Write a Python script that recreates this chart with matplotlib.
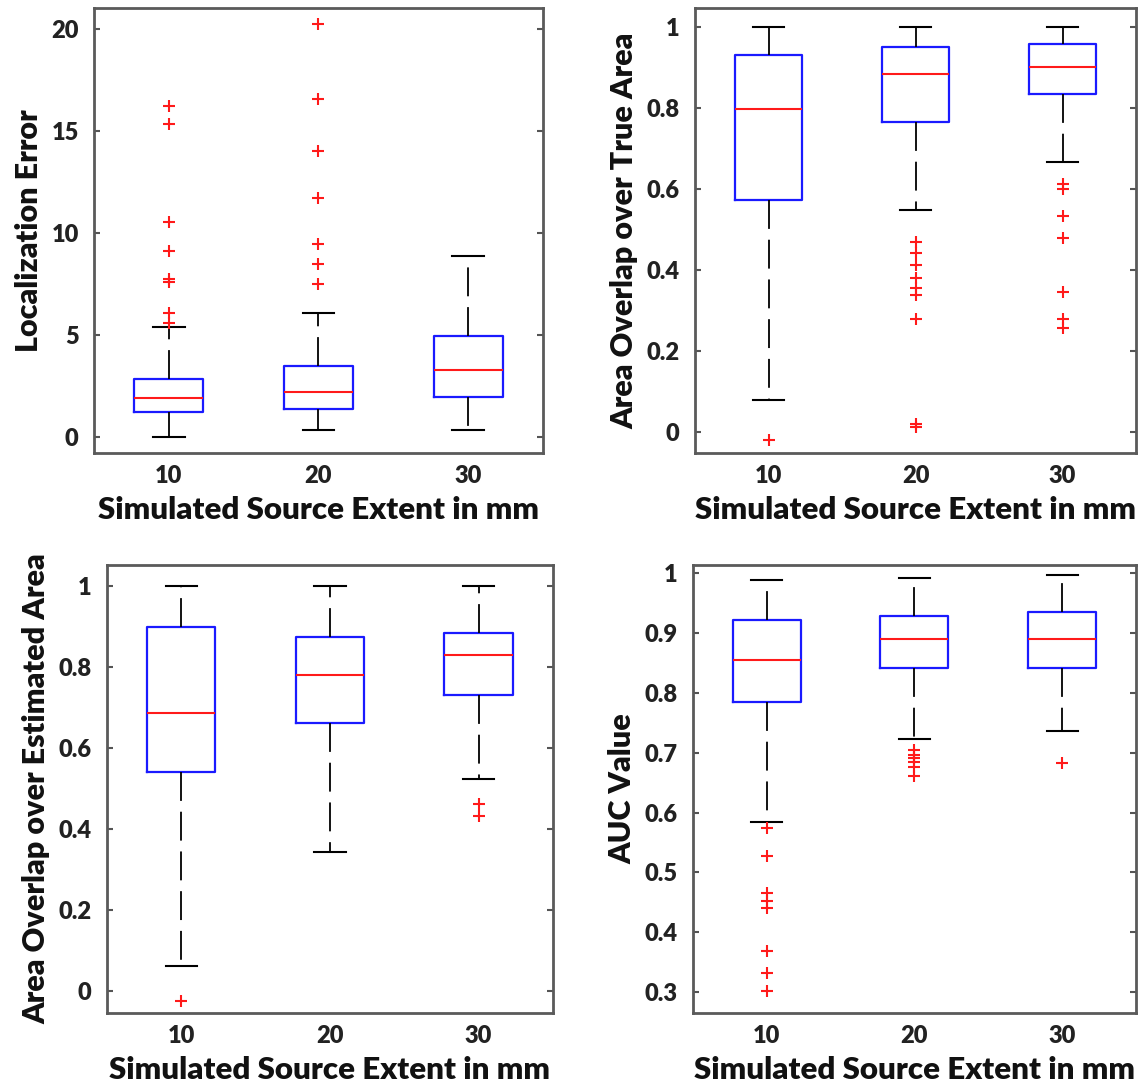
import matplotlib
matplotlib.use("Agg")
import matplotlib.pyplot as plt

plt.rcParams['font.family'] = ['Lato', 'DejaVu Sans']
plt.rcParams['font.weight'] = 'bold'

groups = ['10', '20', '30']
xlabel = 'Simulated Source Extent in mm'

# localization error
loc_q1 = [1.21, 1.38, 1.94]
loc_med = [1.89, 2.22, 3.27]
loc_q3 = [2.85, 3.48, 4.95]
loc_lo = [0.0, 0.34, 0.34]
loc_hi = [5.39, 6.09, 8.89]
loc_out = [[16.21, 15.32, 10.56, 9.12, 7.75, 7.58, 6.07, 5.59],
           [20.22, 16.55, 14.02, 11.71, 9.44, 8.46, 7.48],
           []]

# area overlap over true area
true_q1 = [0.572, 0.765, 0.835]
true_med = [0.797, 0.884, 0.901]
true_q3 = [0.932, 0.951, 0.958]
true_lo = [0.079, 0.548, 0.667]
true_hi = [1.0, 1.0, 1.0]
true_out = [[-0.019],
            [0.47, 0.441, 0.413, 0.379, 0.356, 0.337, 0.28, 0.019, 0.011],
            [0.612, 0.599, 0.534, 0.48, 0.345, 0.28, 0.257]]

# area overlap over estimated area
est_q1 = [0.542, 0.661, 0.730]
est_med = [0.686, 0.780, 0.829]
est_q3 = [0.898, 0.874, 0.885]
est_lo = [0.063, 0.343, 0.524]
est_hi = [0.999, 1.0, 1.0]
est_out = [[-0.025], [], [0.462, 0.433]]

# AUC
auc_q1 = [0.785, 0.841, 0.841]
auc_med = [0.855, 0.891, 0.891]
auc_q3 = [0.922, 0.928, 0.936]
auc_lo = [0.584, 0.723, 0.737]
auc_hi = [0.989, 0.992, 0.998]
auc_out = [[0.574, 0.527, 0.466, 0.453, 0.441, 0.369, 0.332, 0.301],
           [0.704, 0.696, 0.691, 0.684, 0.676, 0.662],
           [0.683]]

panels = [
    dict(rect=[0.0825, 0.5833, 0.3942, 0.4094], q1=loc_q1, med=loc_med, q3=loc_q3,
         lo=loc_lo, hi=loc_hi, out=loc_out, ylim=(-0.78, 21.03),
         yticks=[0, 5, 10, 15, 20], ylabels=['0', '5', '10', '15', '20'],
         ylabel='Localization Error'),
    dict(rect=[0.6102, 0.5833, 0.3872, 0.4094], q1=true_q1, med=true_med, q3=true_q3,
         lo=true_lo, hi=true_hi, out=true_out, ylim=(-0.052, 1.047),
         yticks=[0, 0.2, 0.4, 0.6, 0.8, 1], ylabels=['0', '0.2', '0.4', '0.6', '0.8', '1'],
         ylabel='Area Overlap over True Area'),
    dict(rect=[0.0939, 0.0681, 0.3916, 0.4121], q1=est_q1, med=est_med, q3=est_q3,
         lo=est_lo, hi=est_hi, out=est_out, ylim=(-0.054, 1.052),
         yticks=[0, 0.2, 0.4, 0.6, 0.8, 1], ylabels=['0', '0.2', '0.4', '0.6', '0.8', '1'],
         ylabel='Area Overlap over Estimated Area'),
    dict(rect=[0.6084, 0.0681, 0.3889, 0.4121], q1=auc_q1, med=auc_med, q3=auc_q3,
         lo=auc_lo, hi=auc_hi, out=auc_out, ylim=(0.265, 1.014),
         yticks=[0.3, 0.4, 0.5, 0.6, 0.7, 0.8, 0.9, 1.0],
         ylabels=['0.3', '0.4', '0.5', '0.6', '0.7', '0.8', '0.9', '1'],
         ylabel='AUC Value'),
]

fig = plt.figure(figsize=(11.39, 10.87), dpi=100)

for p in panels:
    ax = fig.add_axes(p['rect'])
    stats = []
    for i in range(len(groups)):
        stats.append(dict(med=p['med'][i], q1=p['q1'][i], q3=p['q3'][i],
                          whislo=p['lo'][i], whishi=p['hi'][i], fliers=p['out'][i]))
    ax.bxp(stats, positions=[1, 2, 3], widths=0.46, capwidths=0.21,
           boxprops=dict(color='#1a1aff', linewidth=1.6),
           medianprops=dict(color='#ff1a1a', linewidth=1.5),
           whiskerprops=dict(color='black', linewidth=1.3, linestyle=(0, (16, 6))),
           capprops=dict(color='black', linewidth=1.5),
           flierprops=dict(marker='+', markeredgecolor='#ff1a1a', markersize=9,
                           markeredgewidth=1.5, linestyle='none'))
    ax.set_xlim(0.5, 3.5)
    ax.set_ylim(*p['ylim'])
    ax.set_xticks([1, 2, 3])
    ax.set_xticklabels(groups)
    ax.set_yticks(p['yticks'])
    ax.set_yticklabels(p['ylabels'])
    ax.tick_params(axis='x', length=0, pad=9, labelsize=17, colors='#222222')
    ax.tick_params(axis='y', direction='in', length=4, width=1.5, color='#555555',
                   right=True, pad=11, labelsize=17, labelcolor='#222222')
    for lbl in ax.get_xticklabels() + ax.get_yticklabels():
        lbl.set_fontweight('heavy')
    for s in ax.spines.values():
        s.set_color('#5a5a5a')
        s.set_linewidth(2)
    ax.set_xlabel(xlabel, fontsize=22.5, fontweight='heavy', labelpad=6, color='#111111')
    ax.set_ylabel(p['ylabel'], fontsize=22, fontweight='heavy', labelpad=6, color='#111111')

fig.savefig('out.png', dpi=100)
